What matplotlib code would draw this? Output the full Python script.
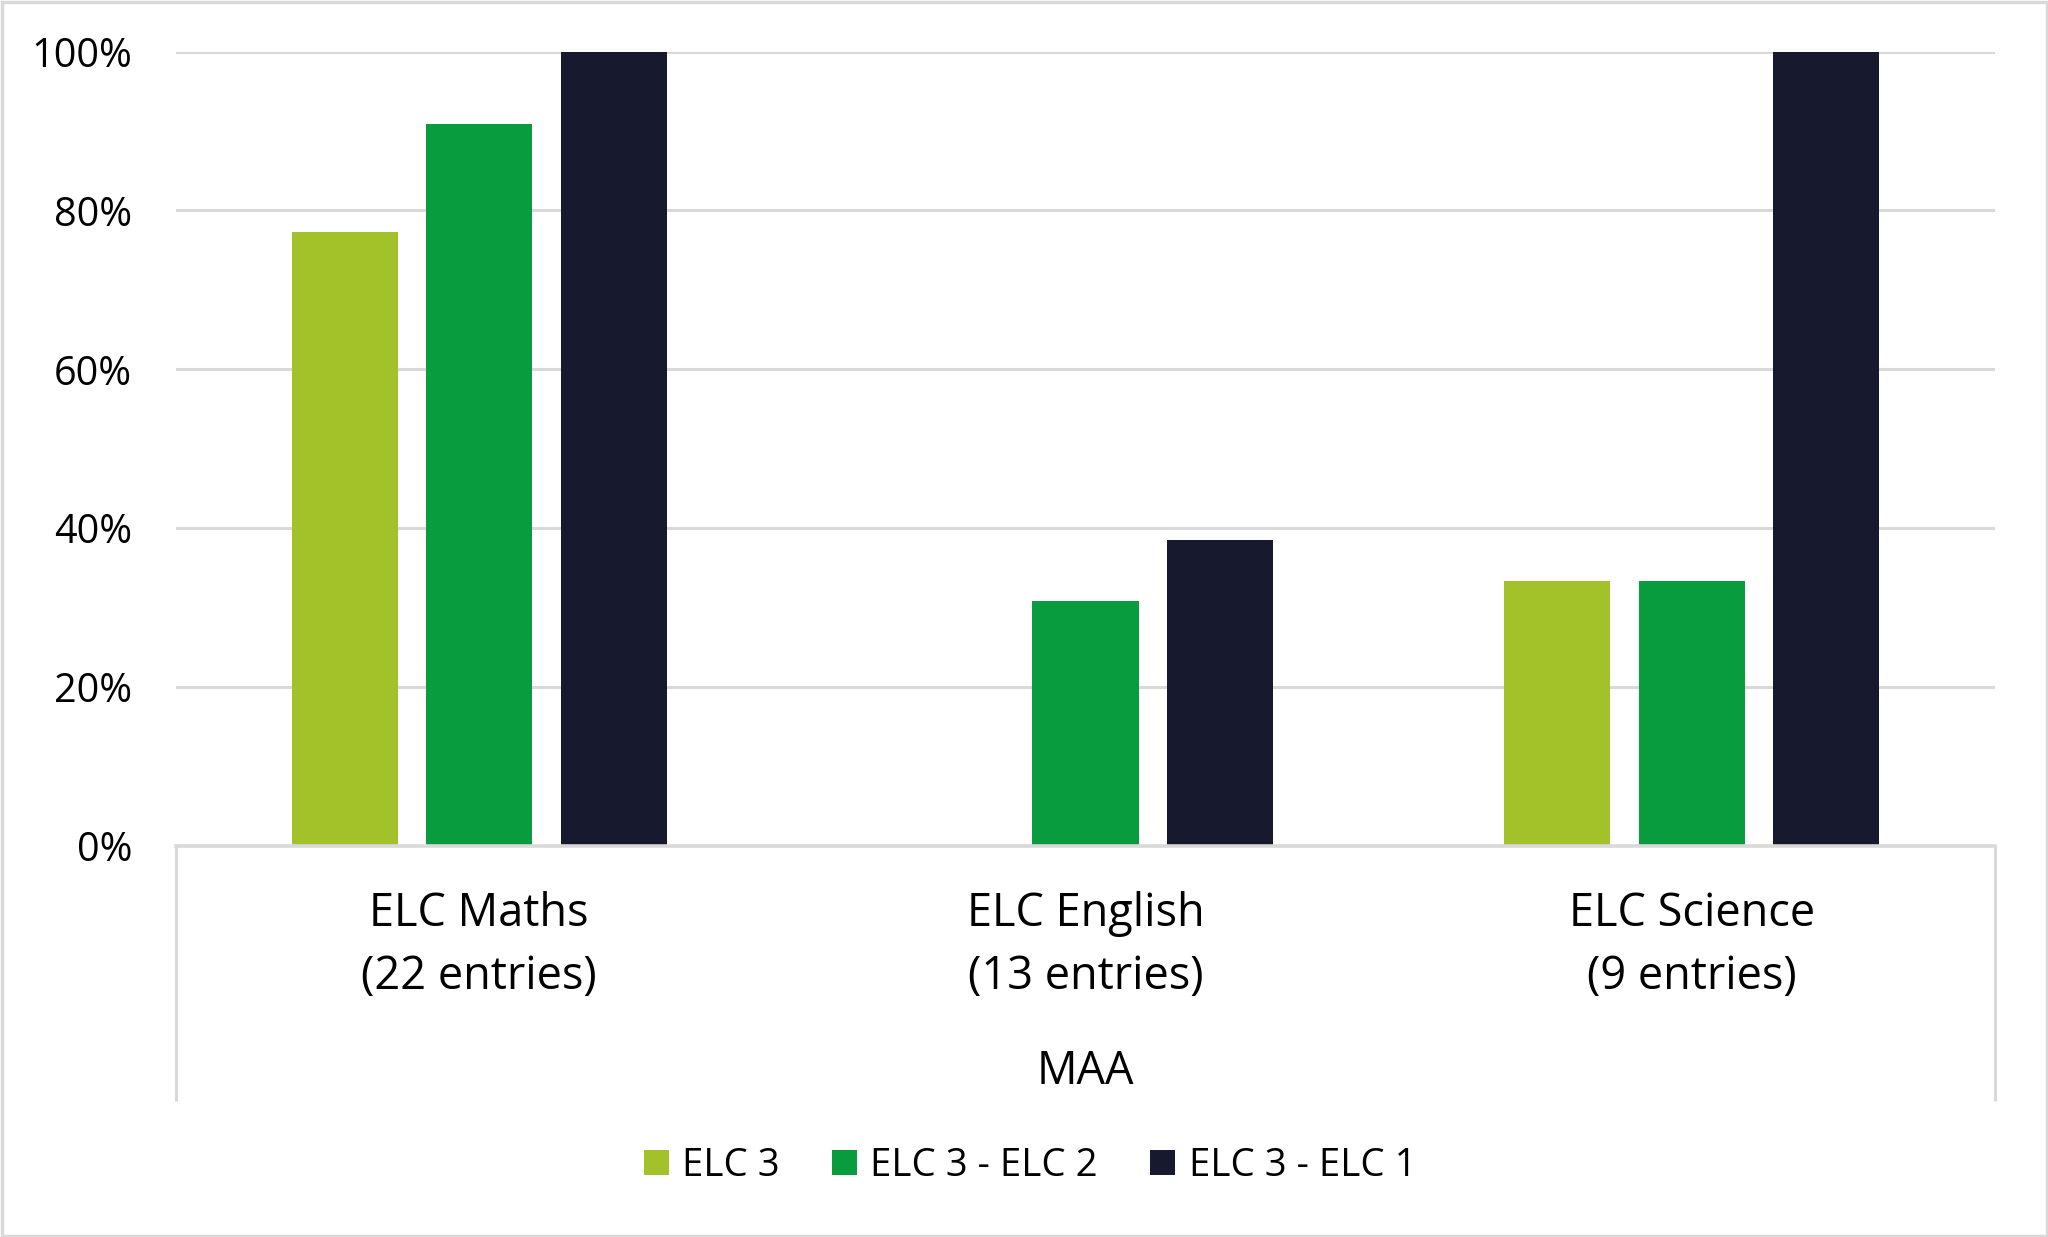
import matplotlib
matplotlib.use("Agg")
import matplotlib.pyplot as plt
import matplotlib.transforms as mtrans
from matplotlib.patches import Rectangle
from matplotlib.ticker import FuncFormatter

# ---- data ----
categories = ["ELC Maths\n(22 entries)", "ELC English\n(13 entries)", "ELC Science\n(9 entries)"]
group_label = "MAA"
series_names = ["ELC 3", "ELC 3 - ELC 2", "ELC 3 - ELC 1"]
elc3 = [0.773, 0.0, 0.333]
elc3_elc2 = [0.909, 0.308, 0.333]
elc3_elc1 = [1.0, 0.385, 1.0]
yticks = [0.0, 0.2, 0.4, 0.6, 0.8, 1.0]

colors = ["#A3C128", "#089C3E", "#17192E"]
grid_c = "#D9D9D9"
FONT = "Open Sans"
W, H = 2048, 1237

fig = plt.figure(figsize=(W / 100, H / 100), dpi=100)
fig.patch.set_facecolor("white")

x0, x1 = 176, 1995
ytop, ybot = 51.5, 846
ax = fig.add_axes([x0 / W, 1 - ybot / H, (x1 - x0) / W, (ybot - ytop) / H])
ax.set_xlim(-0.5, len(categories) - 0.5)
ax.set_ylim(0, 1)

step = 0.2218
width = 0.175
series = [elc3, elc3_elc2, elc3_elc1]
for j, vals in enumerate(series):
    xs = [i + (j - 1) * step for i in range(len(categories))]
    ax.bar(xs, vals, width=width, color=colors[j], label=series_names[j], zorder=3)

for s in ax.spines.values():
    s.set_visible(False)
ax.set_yticks(yticks)
ax.yaxis.set_major_formatter(FuncFormatter(lambda v, p: f"{v*100:.0f}%"))
ax.tick_params(axis="y", length=0, pad=31.5, labelsize=28.5)
for lab in ax.get_yticklabels():
    lab.set_fontfamily(FONT)
ax.grid(axis="y", color=grid_c, linewidth=2.2, zorder=0)
ax.set_axisbelow(True)
ax.set_xticks([])

# lines of the category axis box
axh = ybot - ytop
depth = (1101 - ybot) / axh
for xa in (0, 1):
    ax.plot([xa, xa], [0, -depth], transform=ax.transAxes, color=grid_c,
            linewidth=2.2, clip_on=False, solid_capstyle="butt")
ax.plot([0, 1], [0, 0], transform=ax.transAxes, color=grid_c, linewidth=2.6,
        clip_on=False, zorder=4)

# category labels
blend = mtrans.blended_transform_factory(ax.transData, fig.transFigure)
for i, c in enumerate(categories):
    l1, l2 = c.split("\n")
    ax.text(i, 1 - 914 / H, l1, transform=blend, ha="center", va="center",
            fontsize=32.5, fontfamily=FONT)
    ax.text(i, 1 - 977 / H, l2, transform=blend, ha="center", va="center",
            fontsize=32.5, fontfamily=FONT)
ax.text(0.5, 1 - 1072 / H, group_label,
        transform=mtrans.blended_transform_factory(ax.transAxes, fig.transFigure),
        ha="center", va="center", fontsize=32.5, fontfamily=FONT)

# legend
fs_leg = 27.6
leg = fig.legend(loc="center left", bbox_to_anchor=(644 / W, 1 - 1166 / H), ncol=3,
                 frameon=False, prop={"family": FONT, "size": fs_leg},
                 handlelength=0.64, handleheight=0.64, handletextpad=0.36,
                 columnspacing=1.36, borderaxespad=0, borderpad=0)

# figure border
fig.patches.append(Rectangle((1.5 / W, 1.5 / H), 1 - 3 / W, 1 - 3 / H, transform=fig.transFigure,
                             fill=False, edgecolor=grid_c, linewidth=2.5))

fig.savefig("out.png", dpi=100)
